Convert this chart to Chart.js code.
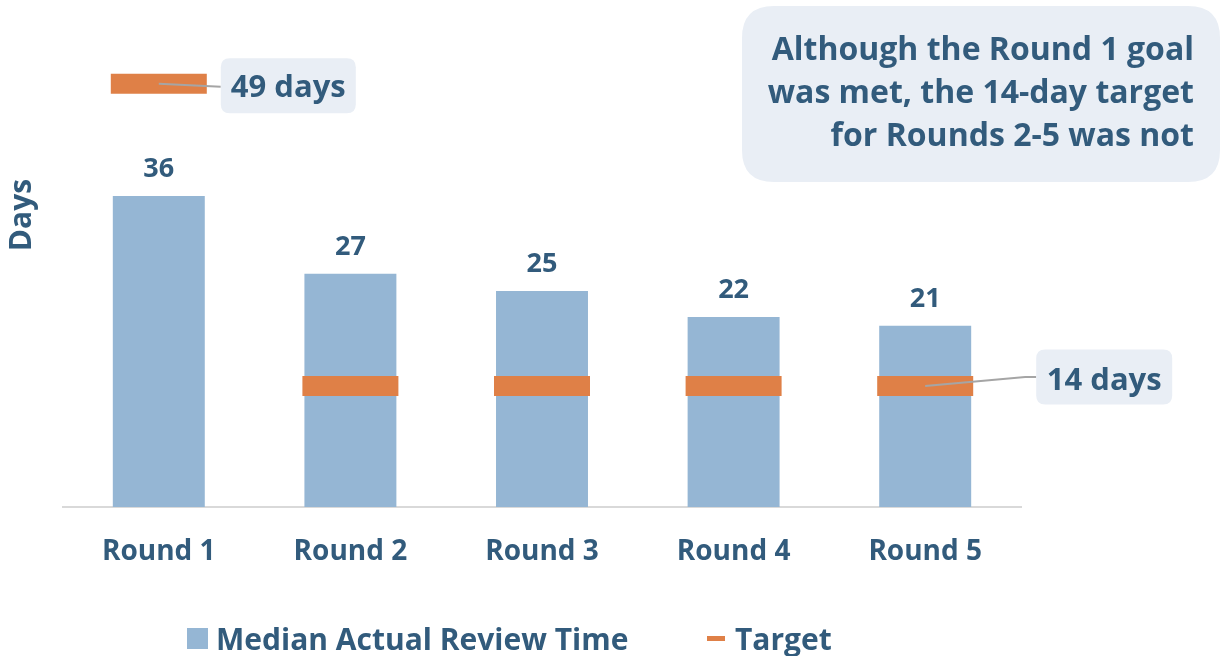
<!DOCTYPE html>
<html>
<head>
<meta charset="utf-8">
<script src="https://cdn.jsdelivr.net/npm/chart.js@4/dist/chart.umd.min.js"></script>
<style>
  html, body { margin: 0; padding: 0; background: #fff; }
  #wrap { width: 1222px; height: 656px; }
</style>
</head>
<body>
<div id="wrap"><canvas id="review" width="1222" height="656"></canvas></div>
<script>
// chart data
var rounds = ['Round 1', 'Round 2', 'Round 3', 'Round 4', 'Round 5'];
var medianDays = [36, 27, 25, 22, 21];
var targetDays = [49, 14, 14, 14, 14];
var seriesNames = ['Median Actual Review Time', 'Target'];
var targetLabels = ['49 days', '14 days'];
var noteLines = ['Although the Round 1 goal', 'was met, the 14-day target', 'for Rounds 2-5 was not'];

var navy = '#325b7c';
var barBlue = '#95b6d4';
var orange = '#df8047';
var boxFill = '#e9eef5';
var FONT = '"Open Sans", "DejaVu Sans", sans-serif';

function roundBox(ctx, x, y, w, h, r) {
  ctx.beginPath();
  ctx.moveTo(x + r, y);
  ctx.lineTo(x + w - r, y);
  ctx.quadraticCurveTo(x + w, y, x + w, y + r);
  ctx.lineTo(x + w, y + h - r);
  ctx.quadraticCurveTo(x + w, y + h, x + w - r, y + h);
  ctx.lineTo(x + r, y + h);
  ctx.quadraticCurveTo(x, y + h, x, y + h - r);
  ctx.lineTo(x, y + r);
  ctx.quadraticCurveTo(x, y, x + r, y);
  ctx.closePath();
  ctx.fill();
}

// labels, callouts, note box, axis title and legend
var extras = {
  id: 'extras',
  afterDatasetsDraw: function (chart) {
    var ctx = chart.ctx;
    var bars = chart.getDatasetMeta(0).data;
    var marks = chart.getDatasetMeta(1).data;
    ctx.save();

    // value labels above bars
    ctx.fillStyle = navy;
    ctx.font = 'bold 27px ' + FONT;
    ctx.textAlign = 'center';
    ctx.textBaseline = 'alphabetic';
    bars.forEach(function (b, i) {
      ctx.fillText(String(medianDays[i]), b.x, b.y - 19);
    });

    // callout for round 1 target
    var p = marks[0];
    ctx.strokeStyle = '#a5a5a5';
    ctx.lineWidth = 2;
    ctx.beginPath();
    ctx.moveTo(p.x, p.y);
    ctx.lineTo(p.x + 62, p.y + 3);
    ctx.stroke();
    ctx.fillStyle = boxFill;
    roundBox(ctx, p.x + 62, p.y - 25.5, 135, 55, 9);
    ctx.fillStyle = navy;
    ctx.font = 'bold 31px ' + FONT;
    ctx.textBaseline = 'middle';
    ctx.fillText(targetLabels[0], p.x + 62 + 67.5, p.y + 4);

    // callout for round 5 target
    p = marks[4];
    ctx.beginPath();
    ctx.moveTo(p.x, p.y);
    ctx.lineTo(p.x + 100, p.y - 9);
    ctx.lineTo(p.x + 111, p.y - 9);
    ctx.stroke();
    ctx.fillStyle = boxFill;
    roundBox(ctx, p.x + 111, p.y - 36.5, 136, 55, 9);
    ctx.fillStyle = navy;
    ctx.fillText(targetLabels[1], p.x + 111 + 68, p.y - 5);

    // note box
    ctx.fillStyle = boxFill;
    roundBox(ctx, 742, 6, 478, 176, 32);
    ctx.fillStyle = navy;
    ctx.font = 'bold 32px ' + FONT;
    ctx.textAlign = 'right';
    ctx.textBaseline = 'alphabetic';
    noteLines.forEach(function (t, i) {
      ctx.fillText(t, 1194, 60 + i * 43);
    });

    // y axis title
    ctx.save();
    ctx.translate(22, 215);
    ctx.rotate(-Math.PI / 2);
    ctx.textAlign = 'center';
    ctx.textBaseline = 'middle';
    ctx.font = 'bold 30px ' + FONT;
    ctx.fillText('Days', 0, 0);
    ctx.restore();

    // legend
    ctx.fillStyle = barBlue;
    ctx.fillRect(187, 628, 21, 21);
    ctx.fillStyle = orange;
    ctx.fillRect(707, 636, 18, 5);
    ctx.fillStyle = navy;
    ctx.font = 'bold 30px ' + FONT;
    ctx.textAlign = 'left';
    ctx.fillText(seriesNames[0], 216, 650);
    ctx.fillText(seriesNames[1], 735, 650);

    ctx.restore();
  }
};

new Chart(document.getElementById('review'), {
  data: {
    labels: rounds,
    datasets: [{
      type: 'bar',
      label: seriesNames[0],
      data: medianDays,
      backgroundColor: barBlue,
      barPercentage: 0.48,
      categoryPercentage: 1,
      order: 2
    }, {
      type: 'line',
      label: seriesNames[1],
      data: targetDays,
      showLine: false,
      pointStyle: 'line',
      pointRadius: 48,
      pointHoverRadius: 48,
      pointBorderWidth: 20,
      pointHoverBorderWidth: 20,
      pointBorderColor: orange,
      pointBackgroundColor: orange,
      clip: false,
      order: 1
    }]
  },
  options: {
    responsive: false,
    animation: false,
    events: [],
    layout: { autoPadding: false, padding: { left: 63, right: 201, top: 32, bottom: 0 } },
    plugins: {
      legend: { display: false },
      tooltip: { enabled: false }
    },
    scales: {
      x: {
        grid: { display: false, drawTicks: false },
        border: { display: true, color: '#d9d9d9', width: 2 },
        ticks: { color: navy, font: { family: FONT, size: 28, weight: 'bold' }, padding: 28 },
        afterFit: function (s) { s.height = 149; }
      },
      y: {
        display: false,
        min: 0,
        max: 55
      }
    }
  },
  plugins: [extras]
});
</script>
</body>
</html>
